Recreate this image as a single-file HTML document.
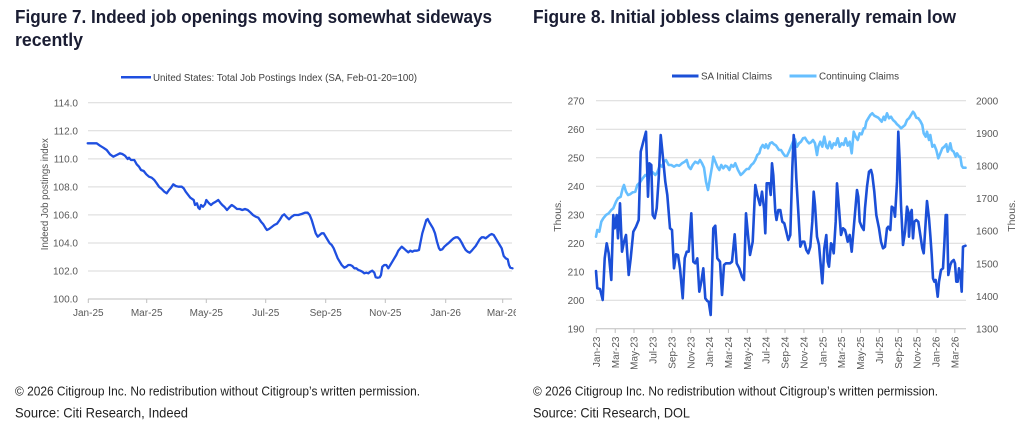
<!DOCTYPE html>
<html><head><meta charset="utf-8"><style>
html,body{margin:0;padding:0;background:#fff;}
svg{display:block;}
text{font-family:"Liberation Sans",Arial,sans-serif;}
</style></head><body>
<svg width="1024" height="427" viewBox="0 0 1024 427" xmlns="http://www.w3.org/2000/svg">
<rect width="1024" height="427" fill="#fff"/>
<!-- Titles -->
<g fill="#1a1d33" font-weight="bold" font-size="18.5">
<text x="15" y="23" textLength="477" lengthAdjust="spacingAndGlyphs">Figure 7. Indeed job openings moving somewhat sideways</text>
<text x="15" y="46" textLength="68" lengthAdjust="spacingAndGlyphs">recently</text>
<text x="533" y="23" textLength="423" lengthAdjust="spacingAndGlyphs">Figure 8. Initial jobless claims generally remain low</text>
</g>

<!-- ============ LEFT CHART ============ -->
<line x1="121" y1="77.3" x2="151" y2="77.3" stroke="#1f4fe0" stroke-width="2.5"/>
<text x="153" y="80.8" font-size="10" fill="#404040" textLength="264" lengthAdjust="spacingAndGlyphs">United States: Total Job Postings Index (SA, Feb-01-20=100)</text>

<g stroke="#d9d9d9" stroke-width="1">
<line x1="88" y1="102.7" x2="512" y2="102.7"/>
<line x1="88" y1="130.8" x2="512" y2="130.8"/>
<line x1="88" y1="158.9" x2="512" y2="158.9"/>
<line x1="88" y1="186.9" x2="512" y2="186.9"/>
<line x1="88" y1="214.9" x2="512" y2="214.9"/>
<line x1="88" y1="243" x2="512" y2="243"/>
<line x1="88" y1="271" x2="512" y2="271"/>
</g>
<line x1="88" y1="299" x2="512" y2="299" stroke="#bfbfbf" stroke-width="1"/>
<g stroke="#bfbfbf" stroke-width="1">
<line x1="88.3" y1="299" x2="88.3" y2="303"/>
<line x1="146.7" y1="299" x2="146.7" y2="303"/>
<line x1="206.3" y1="299" x2="206.3" y2="303"/>
<line x1="265.7" y1="299" x2="265.7" y2="303"/>
<line x1="325.7" y1="299" x2="325.7" y2="303"/>
<line x1="385.3" y1="299" x2="385.3" y2="303"/>
<line x1="445.7" y1="299" x2="445.7" y2="303"/>
<line x1="502.7" y1="299" x2="502.7" y2="303"/>
</g>
<g font-size="10" fill="#595959" text-anchor="end">
<text x="78" y="106.3">114.0</text>
<text x="78" y="134.4">112.0</text>
<text x="78" y="162.5">110.0</text>
<text x="78" y="190.5">108.0</text>
<text x="78" y="218.5">106.0</text>
<text x="78" y="246.6">104.0</text>
<text x="78" y="274.6">102.0</text>
<text x="78" y="302.6">100.0</text>
</g>
<defs><clipPath id="lc"><rect x="0" y="0" width="516" height="427"/></clipPath></defs>
<g font-size="10" fill="#595959" text-anchor="middle" clip-path="url(#lc)">
<text x="88.3" y="316">Jan-25</text>
<text x="146.7" y="316">Mar-25</text>
<text x="206.3" y="316">May-25</text>
<text x="265.7" y="316">Jul-25</text>
<text x="325.7" y="316">Sep-25</text>
<text x="385.3" y="316">Nov-25</text>
<text x="445.7" y="316">Jan-26</text>
<text x="502.7" y="316">Mar-26</text>
</g>
<text transform="translate(48,194.2) rotate(-90)" font-size="10" fill="#595959" text-anchor="middle" textLength="112" lengthAdjust="spacingAndGlyphs">Indeed Job postings index</text>

<polyline fill="none" stroke="#1f4fe0" stroke-width="2.3" stroke-linejoin="round" stroke-linecap="round" points="
87.7,143.3 91.7,143.3 96.7,143.3 100,145.7 103.3,147.7 106.7,150 110,154.3 113.3,156.7 116.7,155 120,153.3 122.3,154 125,155.7 127.7,159 129,157.7 131,160 134.3,160 136.7,164.3 139,166.7 141,170 143.7,171 146.3,174.3 149,176.7 151.7,177.7 154.3,180 156.7,183.3 159,186.7 161.7,189 164.3,191.7 166.7,193.3 169,190 171,187.7 173.3,184.3 175.7,186 178.3,186.7 181.7,186.7 183.7,188.3 185.7,191.7 187.7,194.3 190.3,197.7 193.7,200 195,205 197,203.3 198.3,207.7 199.7,209 201,205 203,206.7 205,204.3 206.3,200 207.7,201.7 209,203.3 211,205 213,203.3 215.7,201.7 218.3,200 220.3,202.7 222.3,205 224.3,206.7 227,210 229,207.7 231.7,205 234.3,206.7 237,209 239.7,209 242.3,210 245,209 247.7,210 250.3,212.3 253,215 255.7,216.7 258.3,217.7 261,221.7 263.3,224.3 265.7,228.3 267,230 269,229 271.7,227 274.3,225 277,223.7 279.7,220 282.3,215.7 284.3,214.3 286.3,216.7 289,219.3 291.7,216.7 294.3,215 298.3,215 301.7,214 305,212.7 307.7,212.7 309.7,215 311.7,220 313.7,226.7 315.7,233.3 317.7,236.7 319.7,235 321.7,233.3 323.7,233.3 325.7,236.7 327.7,240 329.7,243.3 331.7,245 333.7,248.3 335.7,253.3 337.7,258.3 339.7,261.7 341.7,265 344.3,267.7 346.3,266.7 348.3,265 350.3,265 352.3,266 354.3,268.3 356.3,268.3 358.3,270 360.3,270.7 362.3,271.7 364.3,273.3 366.3,272.7 368.3,273.3 370.3,271.7 372.3,270.7 374.3,272.7 375.7,277.3 377.7,277.7 379.7,277.3 381,275 382.3,266.7 384.3,265 386.3,265 388.3,268.3 390.3,265 392.3,261.7 394.3,258.3 396.3,255 398.3,250.7 400.3,248.3 401.7,246.7 403.7,248.3 406.3,250.7 408.3,252.3 410.3,250.7 412.3,251.7 414.3,250.7 417,250.7 419,250 420.3,243.3 422.3,233.3 424.3,226.7 426.3,220 427.7,219 429,221.7 431,225 433,228.3 435,233.3 437,241.7 439,248.3 440.3,250 442.3,249.3 444.3,246.7 447,244.3 449,242.7 451.7,240 453.7,238.3 455.7,237.3 457.7,237.3 459.7,239.3 461.7,242.7 463.7,246.7 465.7,250 467.7,251.7 469.7,252.7 471.7,250.7 473.7,248.3 475.7,246 477.7,242.7 479.7,239.3 481.7,237.3 483.7,237.3 485.7,238.3 487.7,236.7 489.7,235 491.7,234 493.7,235 495.7,238.3 497.7,241.7 499.7,245 501.7,248.3 503.7,256 505.7,258.3 507.7,259.3 509,265 510.3,267.7 512.5,268.3"/>

<!-- ============ RIGHT CHART ============ -->
<line x1="672" y1="76" x2="698.5" y2="76" stroke="#1b4fd7" stroke-width="3"/>
<text x="701" y="79.5" font-size="10" fill="#404040" textLength="71" lengthAdjust="spacingAndGlyphs">SA Initial Claims</text>
<line x1="789.5" y1="76" x2="816.5" y2="76" stroke="#66bfff" stroke-width="3"/>
<text x="819" y="79.5" font-size="10" fill="#404040" textLength="80" lengthAdjust="spacingAndGlyphs">Continuing Claims</text>

<g stroke="#d9d9d9" stroke-width="1">
<line x1="596" y1="100.7" x2="966" y2="100.7"/>
<line x1="596" y1="129.2" x2="966" y2="129.2"/>
<line x1="596" y1="157.7" x2="966" y2="157.7"/>
<line x1="596" y1="186.2" x2="966" y2="186.2"/>
<line x1="596" y1="214.7" x2="966" y2="214.7"/>
<line x1="596" y1="243.2" x2="966" y2="243.2"/>
<line x1="596" y1="271.7" x2="966" y2="271.7"/>
<line x1="596" y1="300.2" x2="966" y2="300.2"/>
</g>
<line x1="596" y1="328.7" x2="966" y2="328.7" stroke="#bfbfbf" stroke-width="1"/>
<g stroke="#bfbfbf" stroke-width="1">
<line x1="596.3" y1="328.7" x2="596.3" y2="333"/><line x1="615.2" y1="328.7" x2="615.2" y2="333"/><line x1="634.0" y1="328.7" x2="634.0" y2="333"/><line x1="652.9" y1="328.7" x2="652.9" y2="333"/><line x1="671.8" y1="328.7" x2="671.8" y2="333"/><line x1="690.7" y1="328.7" x2="690.7" y2="333"/><line x1="709.5" y1="328.7" x2="709.5" y2="333"/><line x1="728.4" y1="328.7" x2="728.4" y2="333"/><line x1="747.3" y1="328.7" x2="747.3" y2="333"/><line x1="766.1" y1="328.7" x2="766.1" y2="333"/><line x1="785.0" y1="328.7" x2="785.0" y2="333"/><line x1="803.9" y1="328.7" x2="803.9" y2="333"/><line x1="822.7" y1="328.7" x2="822.7" y2="333"/><line x1="841.6" y1="328.7" x2="841.6" y2="333"/><line x1="860.5" y1="328.7" x2="860.5" y2="333"/><line x1="879.3" y1="328.7" x2="879.3" y2="333"/><line x1="898.2" y1="328.7" x2="898.2" y2="333"/><line x1="917.1" y1="328.7" x2="917.1" y2="333"/><line x1="935.9" y1="328.7" x2="935.9" y2="333"/><line x1="954.8" y1="328.7" x2="954.8" y2="333"/>
</g>
<g font-size="10" fill="#595959" text-anchor="end">
<text x="584.3" y="104.3">270</text>
<text x="584.3" y="132.8">260</text>
<text x="584.3" y="161.3">250</text>
<text x="584.3" y="189.8">240</text>
<text x="584.3" y="218.3">230</text>
<text x="584.3" y="246.8">220</text>
<text x="584.3" y="275.3">210</text>
<text x="584.3" y="303.8">200</text>
<text x="584.3" y="332.3">190</text>
</g>
<g font-size="10" fill="#595959" text-anchor="start">
<text x="976" y="104.3">2000</text>
<text x="976" y="136.9">1900</text>
<text x="976" y="169.5">1800</text>
<text x="976" y="202.1">1700</text>
<text x="976" y="234.7">1600</text>
<text x="976" y="267.3">1500</text>
<text x="976" y="299.9">1400</text>
<text x="976" y="332.3">1300</text>
</g>
<text transform="translate(560.8,215.8) rotate(-90)" font-size="10.5" fill="#595959" text-anchor="middle" textLength="32" lengthAdjust="spacingAndGlyphs">Thous.</text>
<text transform="translate(1014.8,215.8) rotate(-90)" font-size="10.5" fill="#595959" text-anchor="middle" textLength="32" lengthAdjust="spacingAndGlyphs">Thous.</text>
<g font-size="10" fill="#595959" text-anchor="end">
<text transform="translate(599.9,336.5) rotate(-90)">Jan-23</text>
<text transform="translate(618.8,336.5) rotate(-90)">Mar-23</text>
<text transform="translate(637.6,336.5) rotate(-90)">May-23</text>
<text transform="translate(656.5,336.5) rotate(-90)">Jul-23</text>
<text transform="translate(675.4,336.5) rotate(-90)">Sep-23</text>
<text transform="translate(694.3,336.5) rotate(-90)">Nov-23</text>
<text transform="translate(713.1,336.5) rotate(-90)">Jan-24</text>
<text transform="translate(732.0,336.5) rotate(-90)">Mar-24</text>
<text transform="translate(750.9,336.5) rotate(-90)">May-24</text>
<text transform="translate(769.7,336.5) rotate(-90)">Jul-24</text>
<text transform="translate(788.6,336.5) rotate(-90)">Sep-24</text>
<text transform="translate(807.5,336.5) rotate(-90)">Nov-24</text>
<text transform="translate(826.3,336.5) rotate(-90)">Jan-25</text>
<text transform="translate(845.2,336.5) rotate(-90)">Mar-25</text>
<text transform="translate(864.1,336.5) rotate(-90)">May-25</text>
<text transform="translate(882.9,336.5) rotate(-90)">Jul-25</text>
<text transform="translate(901.8,336.5) rotate(-90)">Sep-25</text>
<text transform="translate(920.7,336.5) rotate(-90)">Nov-25</text>
<text transform="translate(939.5,336.5) rotate(-90)">Jan-26</text>
<text transform="translate(958.4,336.5) rotate(-90)">Mar-26</text>
</g>

<!-- Continuing claims (light blue) -->
<polyline fill="none" stroke="#66bfff" stroke-width="2.6" stroke-linejoin="round" stroke-linecap="round" points="
596,236.7 597.3,230 599.3,231.7 601.3,221.7 603.3,218.3 606,215 608.7,213.3 611.3,210 613.3,208.3 616,201.7 618,198.3 620.7,196.7 622.7,188.3 624,185 626,191.7 628,195 630,194.3 632.7,192.3 635.3,191.7 637.3,185 640,182.3 642.7,178.3 645.3,175 648,176.7 650,173.3 652.7,172.3 655.3,175 657.3,172.3 660,165 662,166.7 664,161.7 666,160 668.7,165 671.3,165 674,166.7 676.7,165 679.3,165.7 682,163.3 684.7,161.7 686.7,160 688.7,166.7 690.7,169 692.7,165 695.3,161.7 698,163.3 700,160 702,163.3 704,167.7 706,181.7 708,190 710,178.3 712,166.7 713.3,156.7 715.3,161.7 717.3,166.7 719.3,170 721.3,165 723.3,168.3 725.3,165.7 727.3,166.7 729.3,170 731.3,165 733.3,166.7 735.3,163.3 738,170 740.7,175 742.7,173.3 744.7,171 746.7,169 748.7,169 751.3,165 753.3,163.3 755.3,160 757.3,155 759.3,153.3 760.7,148.3 762.7,145 764.7,147.7 766,144.3 768,148.3 770,143.3 772,142.3 774,144.3 776,145.5 779,150 781,150 783,153.3 785,156 787,156 789,151.7 791,146.7 793,141.7 795,139.3 797,146.7 799,143.3 801,141.7 803,138.3 805,137.7 807,141 809,143.3 811,142.3 813,140 815,143.3 817,155 818.3,146.7 820.3,141.7 822.3,146.7 824.3,136.7 826.3,146.7 827.7,148.3 829.7,141.7 831.7,148.3 833.7,143.3 835.7,145 837.7,138.3 839.7,146.7 841.7,143.3 843.7,145 845.7,138.3 847.7,145.7 849.7,141.7 851.7,153.3 853.7,131.7 855.7,136.7 857.7,140 859.7,133.3 861.7,134.3 863.7,128.3 865,128.3 866.3,121.7 868.3,118.3 870.3,115 872.3,113.3 874.3,115.7 876.3,116.7 878.3,117.7 880.3,120 881.7,121.7 883.7,116.7 885,120 887,113.3 889,118.3 891,116.7 893,120 895,121.7 897,124.3 899,126 901,128.3 903,126.7 905,125 907,120 909,118.3 911,115 913,111.7 914.3,113.3 916.3,117.7 918.3,118.3 920.3,121 922.3,125 923.7,133.3 925.7,136.7 927,131.7 929,140 930.3,135 932.3,146.7 934.3,145 936.3,150 938.3,158.3 940.3,153.3 942.3,148.3 944.3,146.7 946.3,144.3 947.7,151.7 949,148.3 950.3,143.3 951.7,150 953.7,151.7 955.7,156.7 957,153.3 959,156.7 960.3,156.7 961.7,165.7 963,167.7 965.5,167.7"/>

<!-- SA Initial Claims (dark blue) -->
<polyline fill="none" stroke="#1b4fd7" stroke-width="2.6" stroke-linejoin="round" stroke-linecap="round" points="
596,271 597.3,288.3 600,289 602.7,300 604.7,258.3 606.7,243.3 608.7,253.3 611.3,280 613.3,215 614.7,228.3 616.7,215 618,238.3 620,203.3 622,251.7 624,241.7 626,235 628.7,275 630.7,258.3 633.3,231.7 636,226.7 638.7,220 640.7,151.7 643.3,141.7 646,131.7 648,196.7 649.3,163.3 651.3,165 652.7,215 654.7,218.3 656.7,208.3 658.7,178.3 660.7,135 662.7,155 665.3,181.7 667.3,195 670,228.3 672,230 674,268.3 676,254.3 678,255 680,268.3 682.7,298.3 684.7,258.3 686.7,251.7 688.7,251.7 691.3,213.3 693.3,261.7 695.3,263.3 697.3,258.3 699.3,291.7 701.3,281.7 703.3,268.3 705.3,298.3 707.3,301 708.7,301.7 710.7,315 713.3,228.3 715.3,225.7 717.3,258.3 720,261.7 722,295 724,265 726,263.3 728,263.3 730,263.3 732,261.7 734.7,234.3 736.7,263.3 739.3,268.3 742,276.7 744,280 746,213.3 748,235 750,255 752.7,241.7 755.3,185 757.3,195 760,205 762,191.7 764,208.3 765.3,233.3 766.7,183.3 769.3,183.3 770.7,195 772,163.3 773.3,175 775.3,211.7 776.5,220 778.3,210 780.3,210 782.3,221.7 784.3,223.3 786.3,231.7 788.3,240 790.3,235 792.3,168.3 793.7,135 795,148.3 796.3,178.3 798.3,211.7 800.3,246.7 802.3,241.7 804.3,241.7 806.3,250 808.3,253.3 810.3,246.7 812.3,221.7 813.7,191.7 815,205 817,236.7 819,245 821,268.3 822.3,283.3 824.3,248.3 826.3,235 827.7,261.7 829,266.7 831,243.3 832.3,245 833.7,253.3 835.7,221.7 837,183.3 839,208.3 841,235 843,228.3 845,230 846.3,235 847.7,241.7 849.7,235 851.7,251.7 853.7,228.3 855.7,205 857,190 858.3,196.7 859.7,221.7 861.7,226.7 863.7,230 865,208.3 867,186.7 869,171.7 871,170 872.3,175 874.3,191.7 876.3,215 879,228.3 881,241.7 883,248.3 885,246.7 887,228.3 888.3,226.7 890.3,230 891.7,206.7 893.7,208.3 895,216.7 897,181.7 898.3,131.7 899.7,161.7 901,205 903,245 905,231.7 907,206.7 908.3,211.7 909,236.7 910.3,215 911.7,210 913,238.3 914.3,221.7 916.3,220 918.3,221.7 920.3,235 922.3,248.3 923.7,253.3 925.7,221.7 927,201 929,218.3 930.3,235 931.7,255 933,278.3 934.3,281.7 935.7,280 937.7,296.7 939,281.7 941,270 943,268.3 944.3,245 945.7,215 947,215 948.3,275 950.3,265 951.7,261.7 953.7,260 955,263.3 956.3,281.7 957.7,281.7 959,268.3 960.3,273.3 961.7,291.7 963,246.7 965.5,245.7"/>

<!-- Footers -->
<g fill="#222">
<text x="15" y="395.5" font-size="13" textLength="405" lengthAdjust="spacingAndGlyphs">© 2026 Citigroup Inc. No redistribution without Citigroup’s written permission.</text>
<text x="15" y="417.7" font-size="14" textLength="173" lengthAdjust="spacingAndGlyphs">Source: Citi Research, Indeed</text>
<text x="533" y="395.5" font-size="13" textLength="405" lengthAdjust="spacingAndGlyphs">© 2026 Citigroup Inc. No redistribution without Citigroup’s written permission.</text>
<text x="533" y="417.7" font-size="14" textLength="157" lengthAdjust="spacingAndGlyphs">Source: Citi Research, DOL</text>
</g>
</svg>
</body></html>
